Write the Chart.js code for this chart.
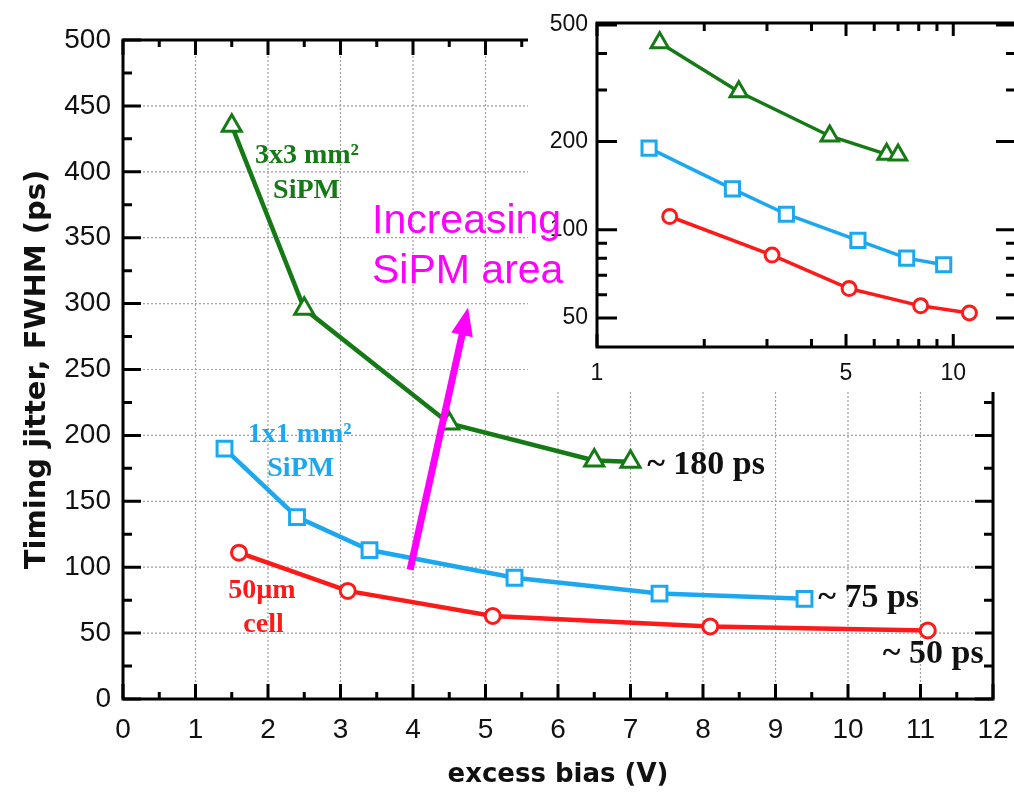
<!DOCTYPE html>
<html>
<head>
<meta charset="utf-8">
<script src="https://cdn.jsdelivr.net/npm/chart.js@4.4.0/dist/chart.umd.min.js"></script>
<style>
html, body { margin: 0; padding: 0; background: #fff; overflow: hidden; }
#wrap { position: relative; width: 1014px; height: 794px; overflow: hidden; }
#main { position: absolute; left: 0; top: 0; }
#inset { position: absolute; left: 528px; top: 0; background: #fff; }
#note { position: absolute; left: 372px; top: 194px; font: 41px/50px "Liberation Sans", Arial, sans-serif; color: #ff00ff; white-space: nowrap; }
</style>
</head>
<body>
<div id="wrap">
  <canvas id="main" width="1014" height="794"></canvas>
  <canvas id="inset" width="492" height="392"></canvas>
  <div id="note">Increasing<br>SiPM area</div>
</div>
<script>
// values
const bias3x3 = [1.5, 2.5, 4.5, 6.5, 7.0];
const jitter3x3 = [435, 296, 209, 181, 180];
const bias1x1 = [1.4, 2.4, 3.4, 5.4, 7.4, 9.4];
const jitter1x1 = [190, 138, 113, 92, 80, 76];
const biasCell = [1.6, 3.1, 5.1, 8.1, 11.1];
const jitterCell = [111, 82, 63, 55, 52];

// inset (log-log) tick values
const insetXTicks = [1, 5, 10];
const insetXMinor = [2, 3, 4, 6, 7, 8, 9];
const insetYTicks = [50, 100, 200, 500];
const insetYMinor = [60, 70, 80, 90, 300, 400];

// text notes, anchored in data units of the main plot
const noteText = ['3x3 mm²', 'SiPM', '1x1 mm²', 'SiPM', '50µm', 'cell', '~ 180 ps', '~ 75 ps', '~ 50 ps'];
const noteX = [1.82, 2.07, 1.72, 1.99, 1.45, 1.66, 7.23, 9.59, 10.48];
const noteY = [407, 380.5, 195, 169, 77, 51, 171, 70, 27];
const arrowFrom = [3.96, 98];
const arrowTo = [4.76, 297];

const GREEN = '#157a15', BLUE = '#1ca8f0', RED = '#ff1a1a', MAGENTA = '#ff00ff';
const noteColor = [GREEN, GREEN, BLUE, BLUE, RED, RED, '#111', '#111', '#111'];
const noteSize = [28, 28, 28, 28, 28, 28, 34, 34, 34];

const pts = (xs, ys) => xs.map((x, i) => ({x, y: ys[i]}));

function series(xs, ys, color, style, r, lw) {
  return {
    data: pts(xs, ys), borderColor: color, borderWidth: lw,
    pointStyle: style, pointRadius: r, pointBorderWidth: 3,
    pointBackgroundColor: '#fff', pointBorderColor: color, tension: 0
  };
}

function drawFrame(chart, o) {
  const {ctx, chartArea: a, scales: {x, y}} = chart;
  ctx.save();
  ctx.strokeStyle = '#000';
  ctx.lineWidth = 3;
  ctx.beginPath();
  o.xt.forEach(([v, len]) => {
    const px = x.getPixelForValue(v);
    ctx.moveTo(px, a.bottom); ctx.lineTo(px, a.bottom - len);
    ctx.moveTo(px, a.top); ctx.lineTo(px, a.top + len);
  });
  o.yt.forEach(([v, len]) => {
    const py = y.getPixelForValue(v);
    ctx.moveTo(a.left, py); ctx.lineTo(a.left + len, py);
    ctx.moveTo(a.right, py); ctx.lineTo(a.right - len, py);
  });
  ctx.stroke();
  ctx.strokeRect(a.left, a.top, a.right - a.left, a.bottom - a.top);
  ctx.restore();
}

// keep the plot box where the layout padding puts it
function noEdgePad(s) {
  s.paddingLeft = 0; s.paddingRight = 0; s.paddingTop = 0; s.paddingBottom = 0;
}

// main plot ticks
const mainXT = [], mainYT = [];
for (let v = 0; v <= 12; v += 0.5) mainXT.push([v, v % 1 === 0 ? 15 : 7]);
for (let v = 0; v <= 500; v += 25) mainYT.push([v, v % 50 === 0 ? 18 : 9]);

const gridPlugin = {
  id: 'dotgrid',
  beforeDatasetsDraw(chart) {
    const {ctx, chartArea: a, scales: {x, y}} = chart;
    ctx.save();
    ctx.strokeStyle = '#a0a0a0';
    ctx.lineWidth = 1.2;
    ctx.setLineDash([2, 2]);
    ctx.beginPath();
    for (let v = 1; v < 12; v++) { const px = x.getPixelForValue(v); ctx.moveTo(px, a.top); ctx.lineTo(px, a.bottom); }
    for (let v = 50; v < 500; v += 50) { const py = y.getPixelForValue(v); ctx.moveTo(a.left, py); ctx.lineTo(a.right, py); }
    ctx.stroke();
    ctx.restore();
  },
  afterDatasetsDraw(chart) {
    drawFrame(chart, {xt: mainXT, yt: mainYT});
  },
  afterDraw(chart) {
    const {ctx, scales: {x, y}} = chart;
    ctx.save();
    ctx.textBaseline = 'alphabetic';
    ctx.textAlign = 'left';
    noteText.forEach((t, i) => {
      ctx.font = 'bold ' + noteSize[i] + 'px "Liberation Serif", "Times New Roman", serif';
      ctx.fillStyle = noteColor[i];
      ctx.fillText(t, x.getPixelForValue(noteX[i]), y.getPixelForValue(noteY[i]));
    });
    // magenta arrow
    const x0 = x.getPixelForValue(arrowFrom[0]), y0 = y.getPixelForValue(arrowFrom[1]);
    const x1 = x.getPixelForValue(arrowTo[0]), y1 = y.getPixelForValue(arrowTo[1]);
    const ang = Math.atan2(y1 - y0, x1 - x0), hl = 28, hw = 11;
    const bx = x1 - Math.cos(ang) * hl, by = y1 - Math.sin(ang) * hl;
    ctx.strokeStyle = MAGENTA; ctx.fillStyle = MAGENTA; ctx.lineWidth = 7;
    ctx.beginPath(); ctx.moveTo(x0, y0); ctx.lineTo(bx + Math.cos(ang) * 2, by + Math.sin(ang) * 2); ctx.stroke();
    ctx.beginPath();
    ctx.moveTo(x1, y1);
    ctx.lineTo(bx + Math.sin(ang) * hw, by - Math.cos(ang) * hw);
    ctx.lineTo(bx - Math.sin(ang) * hw, by + Math.cos(ang) * hw);
    ctx.closePath(); ctx.fill();
    ctx.restore();
  }
};

const tickFont = {family: '"Liberation Sans", Arial, sans-serif', size: 28};

new Chart(document.getElementById('main'), {
  type: 'line',
  data: {datasets: [
    series(bias3x3, jitter3x3, GREEN, 'triangle', 11, 4.5),
    series(bias1x1, jitter1x1, BLUE, 'rect', 10.5, 4.5),
    series(biasCell, jitterCell, RED, 'circle', 7.5, 4.5)
  ]},
  options: {
    responsive: false, animation: false, devicePixelRatio: 1,
    layout: {autoPadding: false, padding: {top: 40, right: 21, left: 0, bottom: 0}},
    plugins: {legend: {display: false}, tooltip: {enabled: false}},
    scales: {
      x: {
        type: 'linear', min: 0, max: 12,
        ticks: {stepSize: 1, padding: 14, font: tickFont, color: '#111', maxRotation: 0, autoSkip: false},
        grid: {display: false, drawTicks: false}, border: {display: false},
        title: {display: true, text: 'excess bias (V)', color: '#111', padding: {top: 0, bottom: 3},
          font: {family: '"DejaVu Sans", sans-serif', size: 26, weight: 'bold'}},
        afterFit: s => { s.height = 95; noEdgePad(s); }
      },
      y: {
        type: 'linear', min: 0, max: 500,
        ticks: {stepSize: 50, padding: 12, font: tickFont, color: '#111', autoSkip: false},
        grid: {display: false, drawTicks: false}, border: {display: false},
        title: {display: true, text: 'Timing jitter, FWHM (ps)', color: '#111', padding: {top: 20, bottom: 0},
          font: {family: '"DejaVu Sans", sans-serif', size: 29, weight: 'bold'}},
        afterFit: s => { s.width = 123; noEdgePad(s); }
      }
    }
  },
  plugins: [gridPlugin]
});

// inset ticks
const insetXT = insetXTicks.map(v => [v, 13]).concat(insetXMinor.map(v => [v, 8]));
const insetYT = insetYTicks.map(v => [v, 20]).concat(insetYMinor.map(v => [v, 10]));

const insetFont = {family: '"Liberation Sans", Arial, sans-serif', size: 23};

new Chart(document.getElementById('inset'), {
  type: 'line',
  data: {datasets: [
    series(bias3x3, jitter3x3, GREEN, 'triangle', 10, 3.5),
    series(bias1x1, jitter1x1, BLUE, 'rect', 10, 3.5),
    series(biasCell, jitterCell, RED, 'circle', 7, 3.5)
  ]},
  options: {
    responsive: false, animation: false, devicePixelRatio: 1,
    layout: {autoPadding: false, padding: {top: 23, right: 4, left: 0, bottom: 0}},
    plugins: {legend: {display: false}, tooltip: {enabled: false}},
    scales: {
      x: {
        type: 'logarithmic', min: 1, max: 15,
        afterBuildTicks: s => { s.ticks = insetXTicks.map(v => ({value: v})); },
        ticks: {padding: 13, font: insetFont, color: '#111', maxRotation: 0, autoSkip: false, callback: v => String(v)},
        grid: {display: false, drawTicks: false}, border: {display: false},
        afterFit: s => { s.height = 45; noEdgePad(s); }
      },
      y: {
        type: 'logarithmic', min: 39.8, max: 508,
        afterBuildTicks: s => { s.ticks = insetYTicks.map(v => ({value: v})); },
        ticks: {padding: 9, font: insetFont, color: '#111', autoSkip: false, callback: v => String(v)},
        grid: {display: false, drawTicks: false}, border: {display: false},
        afterFit: s => { s.width = 69; noEdgePad(s); }
      }
    }
  },
  plugins: [{id: 'insetframe', afterDatasetsDraw: c => drawFrame(c, {xt: insetXT, yt: insetYT})}]
});
</script>
</body>
</html>
